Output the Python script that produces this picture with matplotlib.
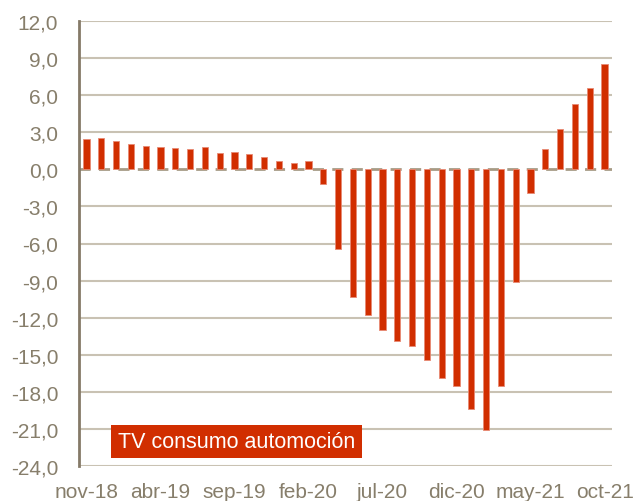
import matplotlib
matplotlib.use("Agg")
import matplotlib.pyplot as plt
import numpy as np

plt.rcParams['font.family'] = ['Liberation Sans', 'DejaVu Sans']

months = ["nov-18", "dic-18", "ene-19", "feb-19", "mar-19", "abr-19", "may-19", "jun-19",
          "jul-19", "ago-19", "sep-19", "oct-19", "nov-19", "dic-19", "ene-20", "feb-20",
          "mar-20", "abr-20", "may-20", "jun-20", "jul-20", "ago-20", "sep-20", "oct-20",
          "nov-20", "dic-20", "ene-21", "feb-21", "mar-21", "abr-21", "may-21", "jun-21",
          "jul-21", "ago-21", "sep-21", "oct-21"]
values = [2.43, 2.50, 2.26, 2.07, 1.85, 1.77, 1.72, 1.63, 1.77, 1.34, 1.44, 1.23,
          1.01, 0.68, 0.49, 0.68, -1.22, -6.43, -10.35, -11.75, -12.97, -13.89, -14.32, -15.46,
          -16.92, -17.49, -19.40, -21.05, -17.54, -9.14, -1.95, 1.65, 3.24, 5.27, 6.59, 8.54]
tick_labels = ["nov-18", "abr-19", "sep-19", "feb-20", "jul-20", "dic-20", "may-21", "oct-21"]
yticks = [12, 9, 6, 3, 0, -3, -6, -9, -12, -15, -18, -21, -24]
legend_label = "TV consumo automoción"

bar_color = "#D12E00"
text_color = "#877E6B"
grid_color = "#C9C2B3"

fig = plt.figure(figsize=(6.33, 5.02), dpi=100)
ax = fig.add_axes([79/633, 1-467/502, (612-79)/633, (467-22)/502])

x = np.arange(len(months))
ax.bar(x, values, width=0.42, color=bar_color, edgecolor="#E88A74", linewidth=0.6, zorder=3)

ax.set_xlim(-0.5, len(months) - 0.5)
ax.set_ylim(-24, 12)
ax.set_yticks(yticks)
ax.set_yticklabels([f"{v:.1f}".replace(".", ",") for v in yticks])
for v in yticks:
    if v == 0:
        ax.axhline(0, color="#A69B85", linestyle=(0, (4, 3)), linewidth=2, zorder=2)
    else:
        ax.axhline(v, color=grid_color, linewidth=1.5, zorder=1)

tick_pos = [months.index(m) for m in tick_labels]
ax.set_xticks(tick_pos)
ax.set_xticklabels(tick_labels)

ax.tick_params(axis='both', length=0, colors=text_color, labelsize=15)
ax.tick_params(axis='y', pad=15)
ax.tick_params(axis='x', pad=11.5)

for s in ["top", "right", "bottom"]:
    ax.spines[s].set_visible(False)
ax.spines["left"].set_color("#857A68")
ax.spines["left"].set_linewidth(2)

ax.text((109 + 364) / 2 / 633, 1 - (426 + 459) / 2 / 502, legend_label,
        transform=fig.transFigure, ha="center", va="center", color="white", fontsize=15.5,
        bbox=dict(boxstyle="square,pad=0.3", facecolor=bar_color, edgecolor="none"), zorder=6)

fig.savefig("out.png", dpi=100)
